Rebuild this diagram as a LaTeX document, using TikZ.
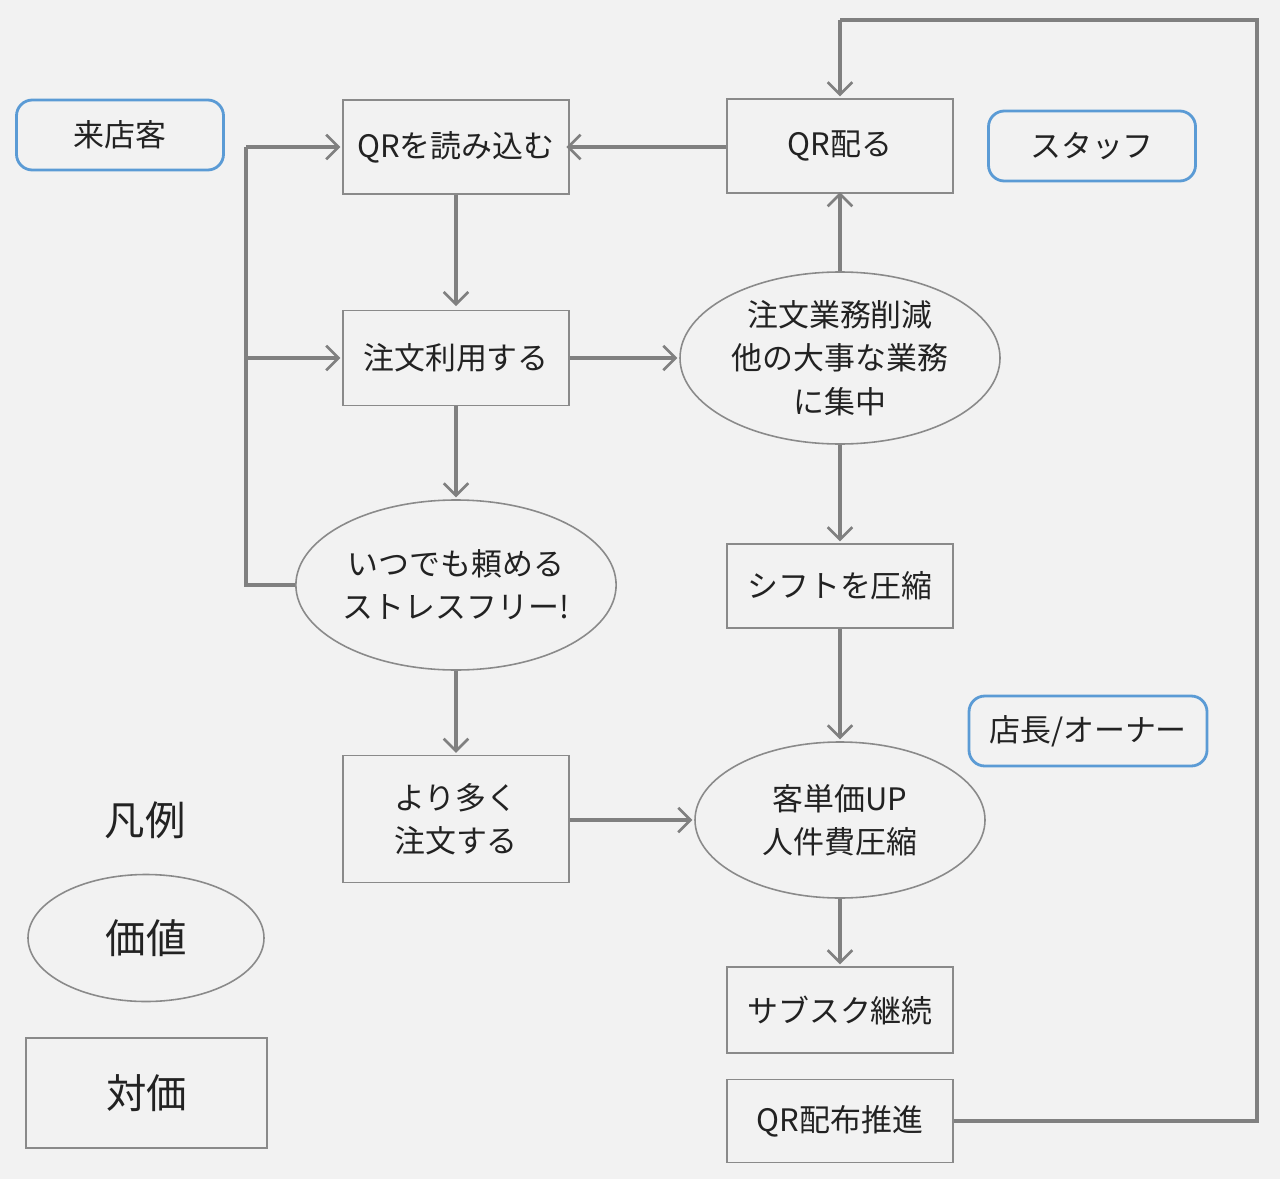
\documentclass[tikz,border=0pt]{standalone}
\usepackage{fontspec}
\setmainfont{Noto Sans CJK JP}
\usetikzlibrary{arrows.meta,shapes.geometric}
\definecolor{bg}{HTML}{F2F2F2}
\definecolor{ln}{HTML}{808080}
\definecolor{bd}{HTML}{8A8A8A}
\definecolor{blu}{HTML}{5B9BD5}
\definecolor{txt}{HTML}{222222}
\tikzset{
  x=0.02cm, y=-0.02cm,
  base/.style={font=\fontsize{17.6}{24.6}\selectfont, text=txt, align=center, inner sep=0pt},
  sq/.style={base, draw=bd, line width=1.1pt, rectangle, minimum width=226*0.02cm},
  ov/.style={base, draw=bd, line width=0.9pt, ellipse, inner sep=0pt},
  tag/.style={base, draw=blu, line width=1.6pt, rounded corners=9pt, minimum height=70*0.02cm},
  conn/.style={draw=ln, line width=1.8pt, -{Straight Barb[length=7pt,width=14pt,line width=1.5pt]}},
  plain/.style={draw=ln, line width=1.8pt},
}
\begin{document}
\begin{tikzpicture}
\fill[bg] (0,0) rectangle (1280,1179);
\useasboundingbox (0,0) rectangle (1280,1179);

% role tags
\node[tag, minimum width=207*0.02cm] (guest) at (120,135) {来店客};
\node[tag, minimum width=207*0.02cm] (staff) at (1092,146) {スタッフ};
\node[tag, minimum width=238*0.02cm] (owner) at (1088,731) {店長/オーナー};

% boxes
\node[sq, minimum height=94*0.02cm] (read) at (456,147) {QRを読み込む};
\node[sq, minimum height=94*0.02cm] (hand) at (840,146) {QR配る};
\node[sq, minimum height=95*0.02cm] (use) at (456,358) {注文利用する};
\node[sq, minimum height=84*0.02cm] (shift) at (840,586) {シフトを圧縮};
\node[sq, minimum height=127*0.02cm] (more) at (456,819) {より多く\\注文する};
\node[sq, minimum height=86*0.02cm] (sub) at (840,1010) {サブスク継続};
\node[sq, minimum height=83*0.02cm] (push) at (840,1121) {QR配布推進};

% ellipses
\node[ov, minimum width=320*0.02cm, minimum height=172*0.02cm] (cut) at (840,358) {注文業務削減\\他の大事な業務\\に集中};
\node[ov, minimum width=314*0.02cm, minimum height=170*0.02cm] (any) at (456,585) {いつでも頼める\\ストレスフリー!};
\node[ov, minimum width=290*0.02cm, minimum height=156*0.02cm] (up) at (840,820) {客単価UP\\人件費圧縮};

% legend
\node[base, font=\fontsize{23}{28}\selectfont] (leg) at (145,820) {凡例};
\node[ov, minimum width=236*0.02cm, minimum height=127*0.02cm, font=\fontsize{23}{28}\selectfont] (val) at (146,938) {価値};
\node[sq, minimum width=241*0.02cm, minimum height=110*0.02cm, font=\fontsize{23}{28}\selectfont] (pay) at (146.5,1093) {対価};

% connectors
\draw[conn] (read.east -| hand.west) -- ([xshift=-2pt]read.east);
\draw[conn] (read.south) -- ([yshift=2pt]use.north);
\draw[conn] (use.east) -- ([xshift=-1pt]cut.west);
\draw[conn] (cut.north) -- ([yshift=1pt]hand.south);
\draw[conn] (cut.south) -- ([yshift=1pt]shift.north);
\draw[conn] (use.south) -- ([yshift=1pt]any.north);
\draw[conn] (any.south) -- ([yshift=1pt]more.north);
\draw[conn] (shift.south) -- ([yshift=1pt]up.north);
\draw[conn] (up.west -| more.east) -- ([xshift=-1pt]up.west);
\draw[conn] (up.south) -- ([yshift=1pt]sub.north);

\coordinate (lb) at (246,585);
\coordinate (lt) at (246,147);
\coordinate (lm) at (246,358);
\draw[plain] (any.west) -- (lb) -- (lt);
\draw[conn] (lt) -- ([xshift=-1pt]read.west);
\draw[conn] (lm) -- ([xshift=-1pt]use.west);

\coordinate (r1) at (1257,1121);
\coordinate (r2) at (1257,20);
\coordinate (r3) at (840,20);
\draw[plain] (push.east) -- (r1) -- (r2) -- (r3);
\draw[conn] (r3) -- ([yshift=1pt]hand.north);
\end{tikzpicture}
\end{document}
